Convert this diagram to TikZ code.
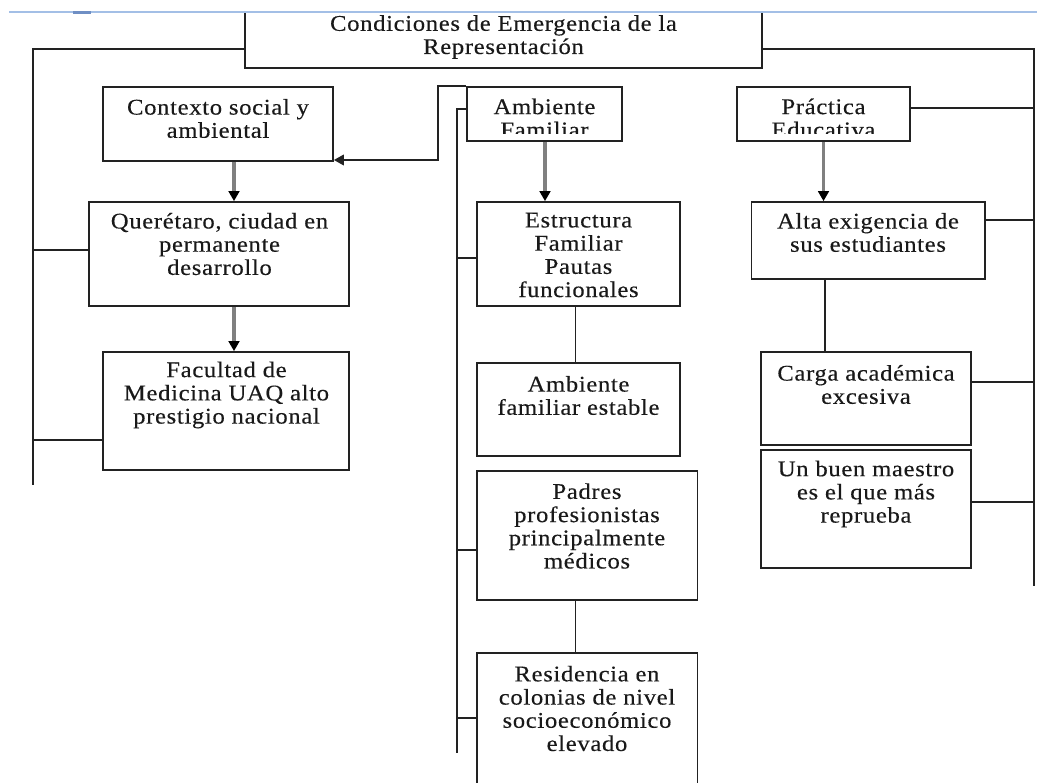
\documentclass[tikz,border=0pt]{standalone}
\usepackage{fontspec}
\setmainfont{Liberation Serif}[FakeStretch=1.1,LetterSpace=3,FakeBold=0.3]
\usetikzlibrary{arrows.meta,fit}
\definecolor{hdr}{HTML}{A3BFE6}
\definecolor{hdrdark}{HTML}{6F8FC4}
\definecolor{shaft}{HTML}{808080}
\definecolor{ink}{HTML}{222222}
\tikzset{
 boxf/.style={draw=ink, line width=1.3pt, inner sep=0pt},
 txt/.style={align=center, inner sep=0pt, font=\fontsize{16.8}{17.4}\selectfont, text=black!90},
 conn/.style={draw=ink, line width=1.2pt},
 grayarr/.style={draw=shaft, line width=2.5pt, -{Triangle[length=7.5pt,width=8pt,color=black]}},
 blkarr/.style={conn, -{Triangle[length=7.5pt,width=8pt]}},
}
\begin{document}
\begin{tikzpicture}[x=0.75pt,y=-0.75pt]
\useasboundingbox (0,0) rectangle (1037,782);
% boxes
\node[inner sep=0pt, fit={(245,12) (762,68)}] (top) {};
\draw[conn, line width=1.3pt] (top.north west) -- (top.south west) -- (top.south east) -- (top.north east);
\node[boxf, fit={(103,87) (333,161)}] (ctx) {};
\node[boxf, fit={(89,202) (349,306)}] (qro) {};
\node[boxf, fit={(103,352) (349,470)}] (fac) {};
\node[boxf, fit={(467,87) (622,141)}] (amb) {};
\node[boxf, fit={(477,202) (680,306)}] (est) {};
\node[boxf, fit={(477,363) (680,456)}] (aes) {};
\node[boxf, fit={(477,471) (697.5,600)}] (pad) {};
\node[boxf, fit={(477,653) (697.5,800)}] (res) {};
\node[boxf, fit={(737,87) (910,141)}] (pra) {};
\node[boxf, fit={(751.5,202) (985,279)}] (alt) {};
\node[boxf, fit={(761,352) (971,445)}] (car) {};
\node[boxf, fit={(761,450) (971,568)}] (ubm) {};
% header line
\draw[hdr, line width=1.5pt] (9,12) -- (1037,12);
\draw[hdrdark, line width=2pt] (73,12.5) -- (91,12.5);
% texts
\node[txt] (topT) at (503.5,37) {Condiciones de Emergencia de la\\Representación};
\node[txt] (ctxT) at (218,118.5) {Contexto social y\\ambiental};
\node[txt] (qroT) at (219.5,244) {Querétaro, ciudad en\\permanente\\desarrollo};
\node[txt] (facT) at (226.5,395) {Facultad de\\Medicina UAQ alto\\prestigio nacional};
\begin{scope}
\clip (467,87) rectangle (622,133);
\node[txt] (ambT) at (544.5,118) {Ambiente\\Familiar};
\end{scope}
\begin{scope}
\clip (737,87) rectangle (910,133);
\node[txt] (praT) at (823.5,118) {Práctica\\Educativa};
\end{scope}
\node[txt] (estT) at (578.5,255) {Estructura\\Familiar\\Pautas\\funcionales};
\node[txt] (aesT) at (578.5,395.5) {Ambiente\\familiar estable};
\node[txt] (padT) at (587,526) {Padres\\profesionistas\\principalmente\\médicos};
\node[txt] (resT) at (587,708.5) {Residencia en\\colonias de nivel\\socioeconómico\\elevado};
\node[txt] (altT) at (868,232.5) {Alta exigencia de\\sus estudiantes};
\node[txt] (carT) at (866,384.5) {Carga académica\\excesiva};
\node[txt] (ubmT) at (866,494) {Un buen maestro\\es el que más\\reprueba};
% trunks
\coordinate (L1) at (33,49);
\coordinate (L2) at (33,485);
\coordinate (R1) at (1034,49);
\coordinate (R2) at (1034,586);
\coordinate (M1) at (457,109);
\coordinate (M2) at (457,753);
\draw[conn] (top.west |- L1) -- (L1) -- (L2);
\draw[conn] (top.east |- R1) -- (R1) -- (R2);
\draw[conn] (amb.west |- M1) -- (M1) -- (M2);
% left branches
\draw[conn] (L1 |- 0,250) -- (qro.west |- 0,250);
\draw[conn] (L1 |- 0,440) -- (fac.west |- 0,440);
% middle branches
\draw[conn] (M1 |- 0,258) -- (est.west |- 0,258);
\draw[conn] (M1 |- 0,550) -- (pad.west |- 0,550);
\draw[conn] (M1 |- 0,718) -- (res.west |- 0,718);
% right branches
\draw[conn] (pra.east |- 0,108) -- (R1 |- 0,108);
\draw[conn] (alt.east |- 0,220) -- (R1 |- 0,220);
\draw[conn] (car.east |- 0,382) -- (R1 |- 0,382);
\draw[conn] (ubm.east |- 0,502) -- (R1 |- 0,502);
% ambiente -> contexto
\coordinate (K) at (438,160);
\draw[blkarr] (amb.north west) -- (amb.north west -| K) -- (K) -- (ctx.east |- K);
% vertical connectors
\coordinate (xa) at (234,0);
\coordinate (xb) at (545,0);
\coordinate (xc) at (823.5,0);
\coordinate (xd) at (575.5,0);
\coordinate (xe) at (825,0);
\draw[grayarr] (ctx.south -| xa) -- (qro.north -| xa);
\draw[grayarr] (qro.south -| xa) -- (fac.north -| xa);
\draw[grayarr] (amb.south -| xb) -- (est.north -| xb);
\draw[grayarr] (pra.south -| xc) -- (alt.north -| xc);
\draw[conn] (est.south -| xd) -- (aes.north -| xd);
\draw[conn] (pad.south -| xd) -- (res.north -| xd);
\draw[conn] (alt.south -| xe) -- (car.north -| xe);
\end{tikzpicture}
\end{document}
